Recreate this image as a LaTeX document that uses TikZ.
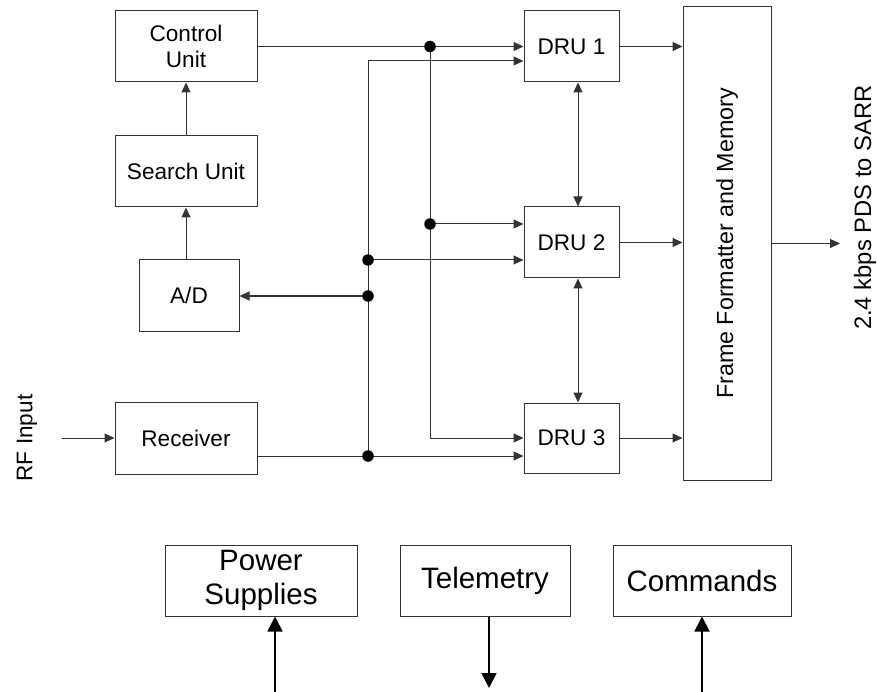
\documentclass[tikz,border=0pt]{standalone}
\usepackage{fontspec}
\setmainfont{Liberation Sans}
\usetikzlibrary{arrows.meta}
\begin{document}
\begin{tikzpicture}[x=1pt,y=-1pt,
  blk/.style={draw=black!80, line width=1pt, minimum height=71pt, inner sep=0pt, align=center, font=\fontsize{22.6}{26}\selectfont},
  bigblk/.style={blk, font=\fontsize{29.5}{34}\selectfont},
  wire/.style={draw=black!80, line width=1pt},
  arr/.style={wire, -{Triangle[length=10pt,width=9pt]}},
  darr/.style={wire, {Triangle[length=10pt,width=9pt]}-{Triangle[length=10pt,width=9pt]}},
  barr/.style={draw=black, line width=1.8pt, -{Triangle[length=15pt,width=15pt]}},
  dot/.style={circle, fill=black, inner sep=0pt, minimum size=11.5pt},
  lbl/.style={font=\fontsize{22.6}{26}\selectfont, rotate=90, inner sep=0pt}
]
\useasboundingbox (0,0) rectangle (877,692);

% blocks
\node[blk, minimum width=142pt] (cu) at (186,46.5) {Control\\Unit};
\node[blk, minimum width=142pt] (su) at (186,171.5) {Search Unit};
\node[blk, minimum width=100pt] (ad) at (189,295.5) {A/D};
\node[blk, minimum width=142pt, minimum height=72pt] (rx) at (186,438) {Receiver};
\node[blk, minimum width=95pt] (d1) at (571.5,46.5) {DRU 1};
\node[blk, minimum width=95pt] (d2) at (571.5,242.5) {DRU 2};
\node[blk, minimum width=95pt, minimum height=70pt] (d3) at (571.5,438) {DRU 3};
\node[blk, minimum width=88pt, minimum height=473pt,
      label={[lbl, font=\fontsize{23.3}{27}\selectfont]center:Frame Formatter and Memory}] (ffm) at (727,243.5) {};
\node[bigblk, minimum width=192pt] (ps) at (261,580.5) {Power\\Supplies};
\node[bigblk, minimum width=170pt] (tm) at (485,580.5) {Telemetry};
\node[bigblk, minimum width=178pt] (cm) at (702,580.5) {Commands};

% labels
\node[lbl] (rf) at (27,438) {RF Input};
\node[lbl, font=\fontsize{23.8}{27}\selectfont] (out) at (865,207.5) {2.4 kbps PDS to SARR};

% junctions and free ends
\coordinate (c1) at (368,61);
\coordinate (c2) at (430,438);
\coordinate (vx) at (578,0);
\coordinate (rfin) at (62,438);
\coordinate (sink) at (840,243.5);
\coordinate (pin) at (275,692);
\coordinate (tout) at (489,688);
\coordinate (cin) at (702,692);
\coordinate (j1) at (430,46.5);
\coordinate (j2) at (430,224);
\coordinate (j3) at (368,260);
\coordinate (j4) at (368,296);
\coordinate (j5) at (368,456);

% connectors
\draw[wire] (cu.east) -- (j1);
\draw[arr] (j1) -- (d1.west);
\draw[wire] (j1) -- (c2);
\draw[arr] (c2) -- (c2 -| d3.west);
\draw[arr] (j2) -- (j2 -| d2.west);
\draw[arr] (c1) -- (c1 -| d1.west);
\draw[wire] (c1) -- (j5);
\draw[arr] (j3) -- (j3 -| d2.west);
\draw[arr] (j4) -- (j4 -| ad.east);
\draw[wire] (rx.east |- j5) -- (j5);
\draw[arr] (j5) -- (j5 -| d3.west);
\draw[arr] (su.north) -- (cu.south);
\draw[arr] (ad.north -| su.south) -- (su.south);
\draw[arr] (rfin) -- (rx.west);
\draw[arr] (d1.east) -- (d1.east -| ffm.west);
\draw[arr] (d2.east) -- (d2.east -| ffm.west);
\draw[arr] (d3.east) -- (d3.east -| ffm.west);
\draw[arr] (ffm.east) -- (sink);
\draw[darr] (d1.south -| vx) -- (d2.north -| vx);
\draw[darr] (d2.south -| vx) -- (d3.north -| vx);
\draw[barr] (pin) -- (pin |- ps.south);
\draw[barr] (tout |- tm.south) -- (tout);
\draw[barr] (cin) -- (cin |- cm.south);

% dots
\foreach \j in {j1,j2,j3,j4,j5} \node[dot] at (\j) {};
\end{tikzpicture}
\end{document}
